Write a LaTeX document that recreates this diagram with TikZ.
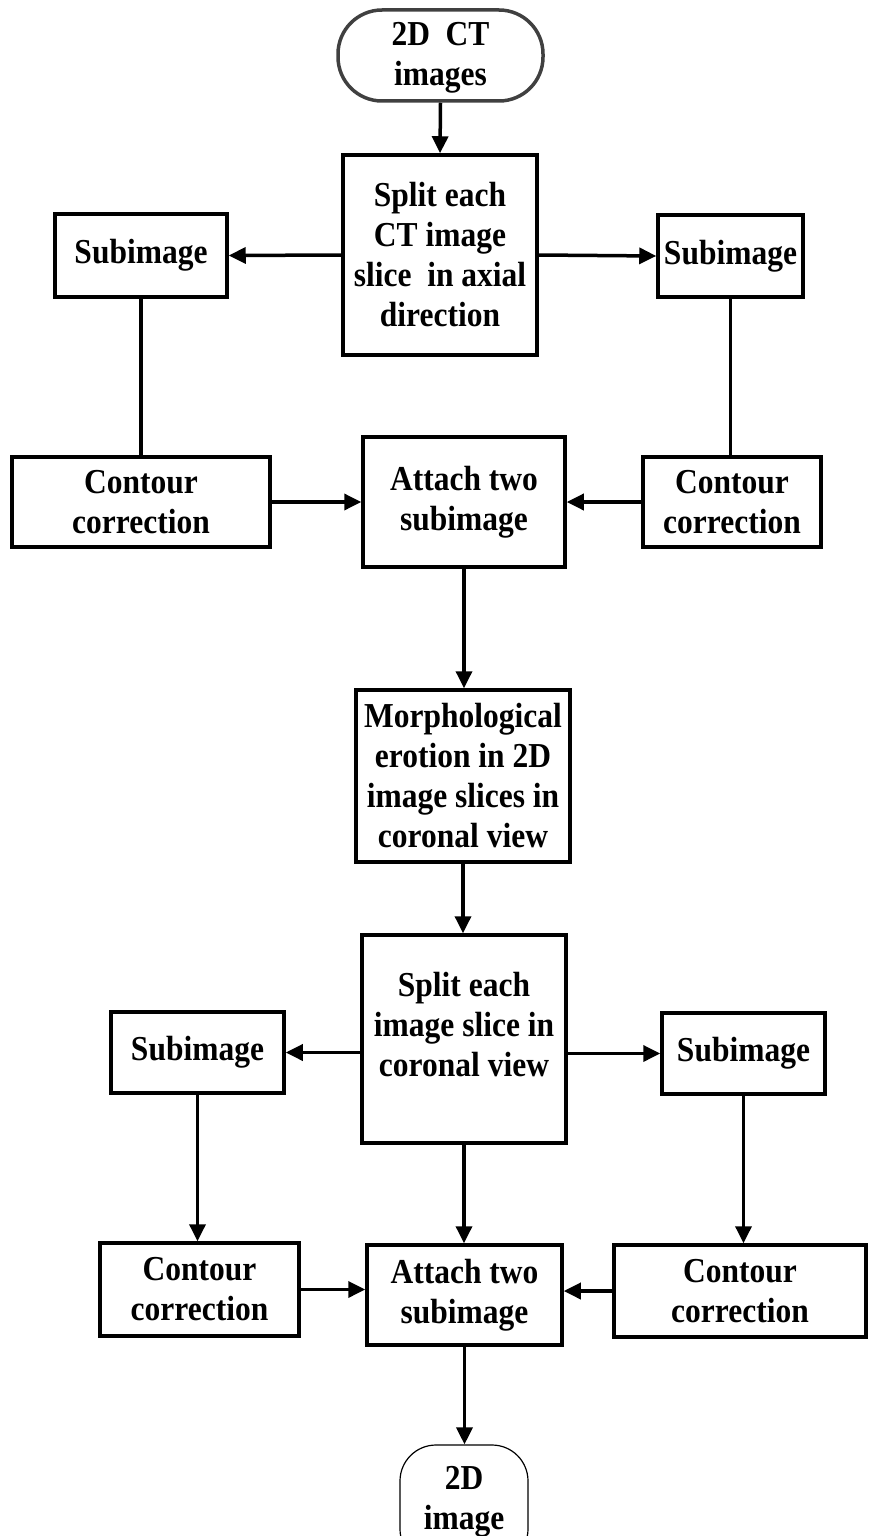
\documentclass[tikz,border=0pt]{standalone}
\usepackage{fontspec}
\setmainfont{Liberation Serif}[FakeStretch=0.9]
\usetikzlibrary{arrows.meta}
\newcommand{\lbl}{\fontsize{35}{40}\selectfont\bfseries}
\tikzset{
  box/.style={draw, line width=3.5pt, inner sep=0pt, align=center, font=\lbl},
  term/.style={draw=black!75, line width=3.5pt, rounded corners=44pt, inner sep=0pt, align=center, font=\lbl},
  lbltext/.style={inner sep=0pt, align=center, font=\lbl},
  link/.style={line width=3.5pt},
  arr/.style={line width=3.5pt, -{Triangle[length=17pt,width=16pt]}},
}
\begin{document}
\begin{tikzpicture}[x=1pt, y=-1pt]
\useasboundingbox (0,0) rectangle (868,1536);

% start terminal
\node[term, minimum width=205pt, minimum height=91pt] (start) at (440.5,55.5) {};
\node[lbltext] (startt) at (440.5,58) {2D\ \ CT\\images};

% axial split stage
\node[box, minimum width=194pt, minimum height=200pt] (s1) at (440,255) {Split each\\CT image\\slice\ \ in axial\\direction};
\node[box, minimum width=172pt, minimum height=83pt] (subL1) at (141,255.5) {Subimage};
\node[box, minimum width=145pt, minimum height=82pt] (subR1) at (730.5,256) {Subimage};
\node[box, minimum width=258pt, minimum height=90pt] (conL1) at (141,502) {Contour\\correction};
\node[box, minimum width=178pt, minimum height=90pt] (conR1) at (732,502) {Contour\\correction};
\node[box, minimum width=202pt, minimum height=130pt] (att1) at (464,502) {Attach two\\subimage};

% erosion
\node[box, minimum width=214pt, minimum height=172pt] (morph) at (463,776) {Morphological\\erotion in 2D\\image slices in\\coronal view};

% coronal split stage
\node[box, minimum width=204pt, minimum height=208pt] (s2) at (464,1039) {};
\node[lbltext] (s2t) at (464,1025) {Split each\\image slice in\\coronal view};
\node[box, minimum width=173pt, minimum height=81pt] (subL2) at (197.5,1052.5) {Subimage};
\node[box, minimum width=163pt, minimum height=81pt] (subR2) at (743.5,1053.5) {Subimage};
\node[box, minimum width=199pt, minimum height=93pt] (conL2) at (199.5,1289.5) {Contour\\correction};
\node[box, minimum width=252pt, minimum height=92pt] (conR2) at (740,1291) {Contour\\correction};
\node[box, minimum width=195pt, minimum height=100pt] (att2) at (464.5,1295) {Attach two\\subimage};

% end terminal
\node[draw, line width=1.2pt, rounded corners=36pt, minimum width=128pt, minimum height=120pt, inner sep=0pt] (end) at (464,1505) {};
\node[lbltext] (endt) at (464,1502) {2D\\image};

% connectors
\draw[arr] (start.south) -- (s1.north);
\draw[arr] (s1.west) -- (subL1.east);
\draw[arr] (s1.east) -- (subR1.west);
\draw[link] (subL1.south) -- (conL1.north);
\draw[link] (subR1.south) -- (subR1.south |- conR1.north);
\draw[arr] (conL1.east) -- (att1.west);
\draw[arr] (conR1.west) -- (att1.east);
\draw[arr] (att1.south) -- (att1.south |- morph.north);
\draw[arr] (morph.south) -- (morph.south |- s2.north);
\draw[arr] (s2.west |- subL2) -- (subL2.east);
\draw[arr] (s2.east |- subR2) -- (subR2.west);
\draw[arr] (subL2.south) -- (subL2.south |- conL2.north);
\draw[arr] (subR2.south) -- (subR2.south |- conR2.north);
\draw[arr] (conL2.east) -- (conL2.east -| att2.west);
\draw[arr] (conR2.west) -- (conR2.west -| att2.east);
\draw[arr] (s2.south) -- (s2.south |- att2.north);
\draw[arr] (att2.south) -- (att2.south |- end.north);
\end{tikzpicture}
\end{document}
